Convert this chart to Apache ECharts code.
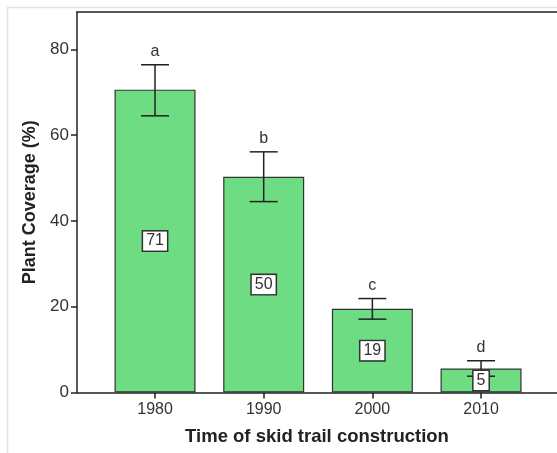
<!DOCTYPE html>
<html>
<head>
<meta charset="utf-8">
<script src="https://cdn.jsdelivr.net/npm/echarts@6/dist/echarts.min.js"></script>
<style>
  html, body { margin: 0; padding: 0; background: #fff; }
  #chart { width: 557px; height: 453px; }
</style>
</head>
<body>
<div id="chart"></div>
<script>
  // data
  var years = [1980, 1990, 2000, 2010];
  var means = [70.6, 50.3, 19.5, 5.6];
  var errLow = [64.5, 44.5, 17.1, 3.8];
  var errHigh = [76.4, 56.1, 21.9, 7.4];
  var groupLetters = ['a', 'b', 'c', 'd'];
  var boxLabels = ['71', '50', '19', '5'];
  var yTicks = [0, 20, 40, 60, 80];

  var font = 'Liberation Sans, Arial, Helvetica, sans-serif';
  var myChart = echarts.init(document.getElementById('chart'));

  var barData = years.map(function (y, i) { return [y, means[i]]; });
  var errData = years.map(function (y, i) {
    return [y, means[i], errLow[i], errHigh[i], groupLetters[i], boxLabels[i]];
  });

  var xMin = 1972.82, xMax = 2016.99;
  var axisLineStyle = { color: '#222', width: 1.5 };

  var option = {
    animation: false,
    backgroundColor: '#fff',
    graphic: [
      { type: 'line', shape: { x1: 7, y1: 7.5, x2: 557, y2: 7.5 }, style: { stroke: '#e4e4e4', lineWidth: 1.5 }, z: 0 },
      { type: 'line', shape: { x1: 7.5, y1: 7, x2: 7.5, y2: 453 }, style: { stroke: '#e4e4e4', lineWidth: 1.5 }, z: 0 }
    ],
    grid: { left: 77, top: 12, right: 0, bottom: 60.5 },
    xAxis: [
      {
        type: 'value',
        min: xMin,
        max: xMax,
        name: 'Time of skid trail construction',
        nameLocation: 'middle',
        nameGap: 35,
        nameTextStyle: { fontFamily: font, fontSize: 18.5, fontWeight: 'bold', color: '#222' },
        splitLine: { show: false },
        axisLine: { show: true, onZero: false, lineStyle: axisLineStyle },
        axisTick: { show: true, length: 6, customValues: years, lineStyle: axisLineStyle },
        axisLabel: {
          customValues: years, margin: 9, fontFamily: font, fontSize: 16, color: '#333',
          formatter: function (v) { return String(v); }
        }
      },
      {
        // top frame line
        type: 'value',
        position: 'top',
        min: xMin,
        max: xMax,
        splitLine: { show: false },
        axisLine: { show: true, onZero: false, lineStyle: axisLineStyle },
        axisTick: { show: false },
        axisLabel: { show: false }
      }
    ],
    yAxis: {
      type: 'value',
      min: 0,
      max: 88.7,
      name: 'Plant Coverage (%)',
      nameLocation: 'middle',
      nameGap: 38,
      nameRotate: 90,
      nameTextStyle: { fontFamily: font, fontSize: 18, fontWeight: 'bold', color: '#222' },
      splitLine: { show: false },
      axisLine: { show: true, lineStyle: axisLineStyle },
      axisTick: { show: true, length: 6, customValues: yTicks, lineStyle: axisLineStyle },
      axisLabel: { customValues: yTicks, margin: 8, fontFamily: font, fontSize: 17, color: '#333' }
    },
    series: [
      {
        type: 'bar',
        data: barData,
        barWidth: 81,
        itemStyle: { color: '#6edc83', borderColor: '#333', borderWidth: 1.2 },
        z: 2
      },
      {
        type: 'custom',
        data: errData,
        z: 3,
        renderItem: function (params, api) {
          var x = api.value(0);
          var lo = api.coord([x, api.value(2)]);
          var hi = api.coord([x, api.value(3)]);
          var mid = api.coord([x, api.value(1) / 2]);
          var half = 14;
          var ls = { stroke: '#222', lineWidth: 1.5 };
          return {
            type: 'group',
            children: [
              { type: 'line', shape: { x1: hi[0], y1: hi[1], x2: lo[0], y2: lo[1] }, style: ls },
              { type: 'line', shape: { x1: hi[0] - half, y1: hi[1], x2: hi[0] + half, y2: hi[1] }, style: ls },
              { type: 'line', shape: { x1: lo[0] - half, y1: lo[1], x2: lo[0] + half, y2: lo[1] }, style: ls },
              {
                type: 'text',
                style: {
                  text: api.value(4), x: hi[0], y: hi[1] - 5,
                  align: 'center', verticalAlign: 'bottom',
                  fontFamily: font, fontSize: 16, fill: '#333'
                }
              },
              {
                type: 'text',
                z2: 10,
                style: {
                  text: api.value(5), x: mid[0], y: mid[1],
                  align: 'center', verticalAlign: 'middle',
                  fontFamily: font, fontSize: 16, fill: '#333',
                  backgroundColor: '#fff', borderColor: '#333', borderWidth: 1.5,
                  padding: [2, 3, 1, 3]
                }
              }
            ]
          };
        }
      }
    ]
  };
  myChart.setOption(option);
</script>
</body>
</html>
